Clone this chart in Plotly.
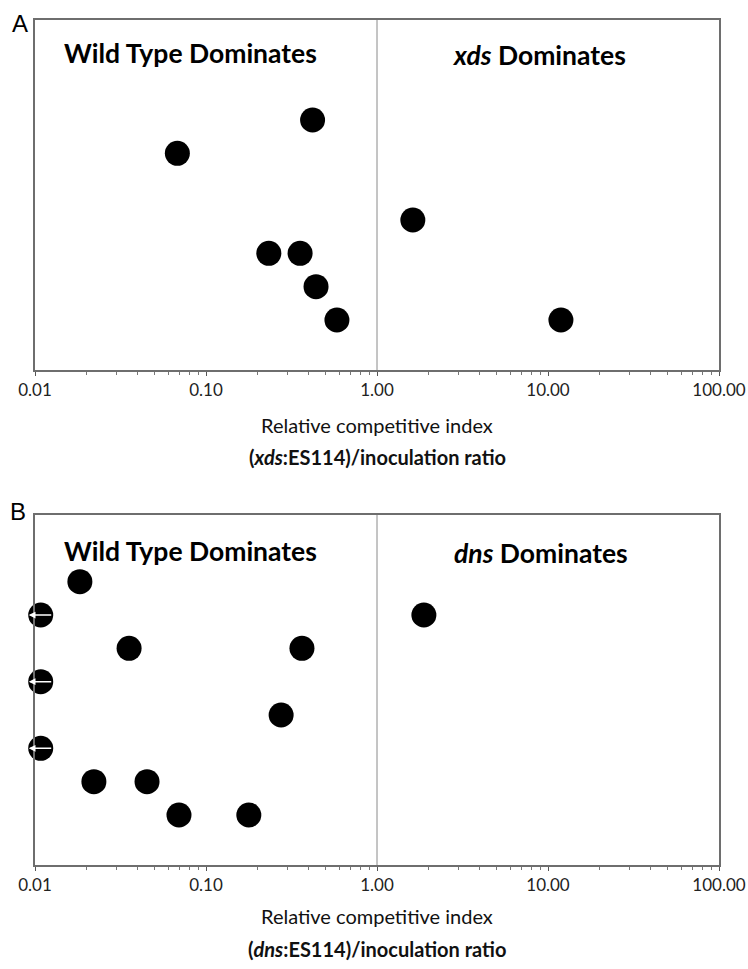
import math
import plotly.graph_objects as go

# ---- data ----
tick_vals = [0.01, 0.1, 1, 10, 100]
tick_labels = ["0.01", "0.10", "1.00", "10.00", "100.00"]

a_x = [0.42, 0.068, 1.62, 0.233, 0.355, 0.44, 0.583, 11.9]
a_y = [7, 6, 4, 3, 3, 2, 1, 1]

b_x = [0.0183, 0.0108, 1.88, 0.0355, 0.364, 0.0108, 0.275, 0.0108, 0.0221, 0.0452, 0.0695, 0.178]
b_y = [8, 7, 7, 6, 6, 5, 4, 3, 2, 2, 1, 1]
b_below_limit = [False, True, False, False, False, True, False, True, False, False, False, False]

W, H = 748, 969
FONT = "Lato"

def px_x(p):
    return p / W

def px_y(p):
    return 1 - p / H

fig = go.Figure()
fig.add_trace(go.Scatter(x=a_x, y=a_y, mode="markers", xaxis="x", yaxis="y",
                         marker=dict(size=25, color="black"), cliponaxis=False, showlegend=False,
                         hoverinfo="skip"))
fig.add_trace(go.Scatter(x=b_x, y=b_y, mode="markers", xaxis="x2", yaxis="y2",
                         marker=dict(size=25, color="black"), cliponaxis=False, showlegend=False,
                         hoverinfo="skip"))

xdom = [px_x(35), px_x(719)]
axis_common = dict(type="log", range=[-2, 2], tickvals=tick_vals, ticktext=tick_labels,
                   ticks="outside", ticklen=4, tickcolor="#555", tickwidth=1,
                   showline=True, linecolor="#6e6e6e", linewidth=2, mirror=True,
                   showgrid=False, zeroline=False, automargin=False,
                   tickfont=dict(family=FONT, size=17, color="#222"),
                   minor=dict(ticks="outside", ticklen=3, tickcolor="#777", dtick="D1", showgrid=False))
yaxis_common = dict(range=[-0.5, 10], showticklabels=False, ticks="", showgrid=False, zeroline=False,
                    showline=True, linecolor="#6e6e6e", linewidth=2, mirror=True, automargin=False)

fig.update_layout(
    width=W, height=H, margin=dict(l=0, r=0, t=0, b=0, autoexpand=False),
    paper_bgcolor="white", plot_bgcolor="white",
    xaxis=dict(domain=xdom, anchor="y", **axis_common),
    yaxis=dict(domain=[px_y(370), px_y(20)], anchor="x", **yaxis_common),
    xaxis2=dict(domain=xdom, anchor="y2", **axis_common),
    yaxis2=dict(domain=[px_y(865), px_y(515)], anchor="x2", **yaxis_common),
)

# vertical reference lines at 1.00
for xr, yr in (("x", "y domain"), ("x2", "y2 domain")):
    fig.add_shape(type="line", xref=xr, yref=yr, x0=1, x1=1, y0=0, y1=1,
                  line=dict(color="#8a8a8a", width=1), layer="below")

ann = []

def txt(text, x, y, font, xanchor="center"):
    ann.append(dict(text=text, x=px_x(x), y=px_y(y), xref="paper", yref="paper",
                    xanchor=xanchor, yanchor="middle", showarrow=False, font=font))

# panel letters
letter_font = dict(family="Liberation Sans", size=24, color="black")
txt("A", 20, 23, letter_font)
txt("B", 18, 511, letter_font)
# region labels
lab_font = dict(family=FONT, size=26.5, color="black")
txt("<b>Wild Type Dominates</b>", 62, 53, lab_font, "left")
txt("<b><i>xds</i> Dominates</b>", 450, 55, lab_font, "left")
txt("<b>Wild Type Dominates</b>", 62, 551, lab_font, "left")
txt("<b><i>dns</i> Dominates</b>", 452, 553, lab_font, "left")
# axis titles
tfont = dict(family=FONT, size=20, color="#111")
txt("Relative competitive index", 377, 425, tfont)
txt("<b>(<i>xds</i>:ES114)/inoculation ratio</b>", 377, 457, tfont)
txt("Relative competitive index", 377, 916, tfont)
txt("<b>(<i>dns</i>:ES114)/inoculation ratio</b>", 377, 949, tfont)

# white arrows for values below detection limit
for xv, yv, flag in zip(b_x, b_y, b_below_limit):
    if flag:
        ann.append(dict(text="", x=math.log10(xv), y=yv, xref="x2", yref="y2", xshift=-12,
                        showarrow=True, ax=24, ay=0, arrowcolor="white", arrowwidth=1.5,
                        arrowhead=2, arrowsize=0.9, standoff=0, startstandoff=0))

fig.update_layout(annotations=ann)
fig.write_html("out.html", config={"displayModeBar": False},
               post_script="document.body.style.margin='0';document.body.style.overflow='hidden';")
